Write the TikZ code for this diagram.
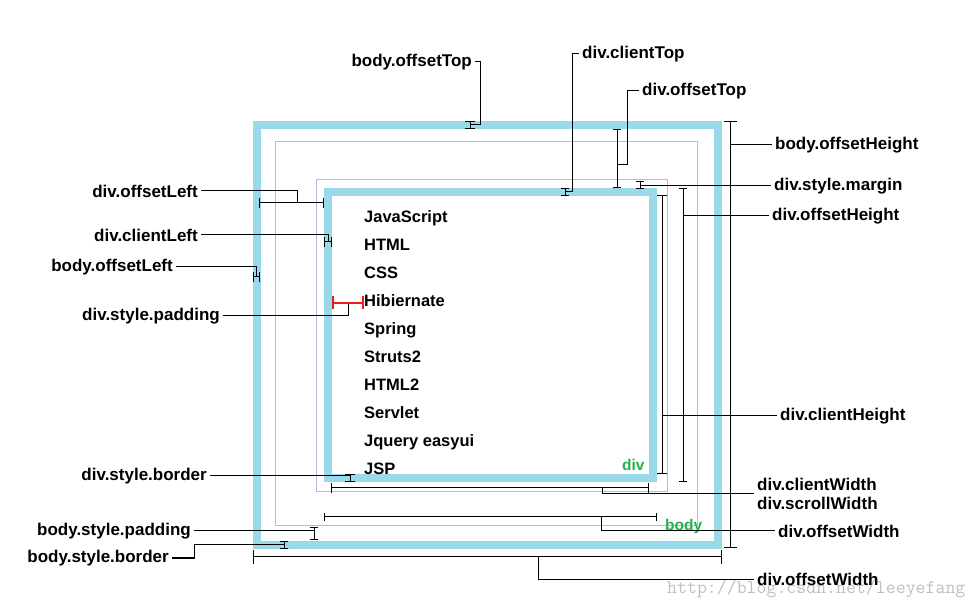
\documentclass[tikz,border=0pt]{standalone}
\usepackage{fontspec}
\setmainfont{Liberation Sans}
\usetikzlibrary{arrows.meta,calc}
\definecolor{SkyBlue}{HTML}{99D9EA}
\definecolor{Lavender}{HTML}{C0B4E4}
\definecolor{TagGreen}{HTML}{22B14C}
\definecolor{TagRed}{HTML}{ED1C24}
\tikzset{
  lbl/.style={font=\fontsize{17}{18.7}\selectfont\bfseries,inner xsep=3pt,inner ysep=0pt},
  listitem/.style={font=\fontsize{16.5}{19}\selectfont\bfseries,inner sep=0pt,anchor=base west},
  tag/.style={font=\fontsize{15.5}{18}\selectfont\bfseries,text=TagGreen,inner sep=0pt,anchor=base west},
  watermark/.style={font=\fontsize{19.3}{20}\selectfont\ttfamily,text=black!25,inner sep=0pt,anchor=base west},
  blueborder/.style={draw=SkyBlue,line width=8pt},
  boxline/.style={draw=Lavender,line width=1pt},
  leader/.style={draw=black,line width=1pt},
  dimline/.style={{Bar[width=10pt]}-{Bar[width=10pt]},draw=black,line width=1pt},
  dimsmall/.style={{Bar[width=8pt]}-{Bar[width=8pt]},draw=black,line width=1pt},
  dimwide/.style={{Bar[width=13pt]}-{Bar[width=13pt]},draw=black,line width=1pt},
  reddim/.style={{Bar[width=13pt]}-{Bar[width=13pt]},draw=TagRed,line width=2pt},
}
\begin{document}
\begin{tikzpicture}[x=1pt,y=-1pt]
\useasboundingbox (0,0) rectangle (978,609);
% body and div boxes
\draw[blueborder] (257,125) rectangle (717.5,545);
\draw[boxline] (275,142) rectangle (697,526);
\draw[boxline] (316,180) rectangle (667,492);
\draw[blueborder] (328,192) rectangle (653,478);
\foreach \t [count=\i from 0] in {JavaScript,HTML,CSS,Hibiernate,Spring,Struts2,HTML2,Servlet,Jquery easyui,JSP}
  \node[listitem] (item\i) at (364,223+28*\i) {\t};
\node[tag] (divtag) at (622,471) {div};
\node[tag] (bodytag) at (665,531) {body};

\node[watermark] (wm) at (667,594) {http://blog.csdn.net/leeyefang};

% top labels
\node[lbl,anchor=east] (offTopB) at (475,62) {body.offsetTop};
\coordinate (offTopB1) at (470,121); \coordinate (offTopB2) at (470,129);
\draw[dimline] (offTopB1) -- (offTopB2);
\draw[leader] (offTopB.east) -- ++(5,0) |- ($(offTopB1)!.5!(offTopB2)$);

\node[lbl,anchor=west] (cliTopD) at (579,54) {div.clientTop};
\coordinate (cliTopD1) at (565,188); \coordinate (cliTopD2) at (565,196);
\draw[dimsmall] (cliTopD1) -- (cliTopD2);
\draw[leader] (cliTopD.west) -- ++(-7,0) |- ($(cliTopD1)!.5!(cliTopD2)$);

\node[lbl,anchor=west] (offTopD) at (639,91) {div.offsetTop};
\coordinate (offTopD1) at (617,129); \coordinate (offTopD2) at (617,188);
\draw[dimsmall] (offTopD1) -- (offTopD2);
\draw[leader] (offTopD.west) -- ++(-12,0) |- ($(offTopD1)!.6!(offTopD2)$);

% right labels
\node[lbl,anchor=west] (offHB) at (772,145) {body.offsetHeight};
\coordinate (offHB1) at (730,121); \coordinate (offHB2) at (730,548);
\draw[dimwide] (offHB1) -- (offHB2);
\draw[leader] (offHB.west) -- (offHB.west -| offHB1);

\node[lbl,anchor=west] (marginD) at (771,186) {div.style.margin};
\coordinate (marginD1) at (640,181); \coordinate (marginD2) at (640,189);
\draw[dimsmall] (marginD1) -- (marginD2);
\draw[leader] (marginD.west) -- (marginD.west -| marginD1);

\node[lbl,anchor=west] (offHD) at (769,216) {div.offsetHeight};
\coordinate (offHD1) at (683,188); \coordinate (offHD2) at (683,482);
\draw[dimsmall] (offHD1) -- (offHD2);
\draw[leader] (offHD.west) -- (offHD.west -| offHD1);

\node[lbl,anchor=west] (cliHD) at (777,416) {div.clientHeight};
\coordinate (cliHD1) at (662,195); \coordinate (cliHD2) at (662,474);
\draw[dimline] (cliHD1) -- (cliHD2);
\draw[leader] (cliHD.west) -- (cliHD.west -| cliHD1);

% bottom labels
\node[lbl,anchor=west,align=left] (cliWD) at (754,494) {div.clientWidth\\div.scrollWidth};
\coordinate (cliWD1) at (331,488); \coordinate (cliWD2) at (649,488);
\draw[dimline] (cliWD1) -- (cliWD2);
\draw[leader] ($(cliWD1)!.855!(cliWD2)$) |- (cliWD.west);

\node[lbl,anchor=west] (offWD) at (775,531) {div.offsetWidth};
\coordinate (offWD1) at (324,517); \coordinate (offWD2) at (657,517);
\draw[dimsmall] (offWD1) -- (offWD2);
\draw[leader] ($(offWD1)!.834!(offWD2)$) |- (offWD.west);

\node[lbl,anchor=west] (offWB) at (754,579) {div.offsetWidth};
\coordinate (offWB1) at (253,557); \coordinate (offWB2) at (722,557);
\draw[dimwide] (offWB1) -- (offWB2);
\draw[leader] ($(offWB1)!.608!(offWB2)$) |- (offWB.west);

% left labels
\node[lbl,anchor=east] (offLD) at (201,191) {div.offsetLeft};
\coordinate (offLD1) at (259,203); \coordinate (offLD2) at (324,203);
\draw[dimline] (offLD1) -- (offLD2);
\draw[leader] (offLD.east) -| ($(offLD1)!.585!(offLD2)$);

\node[lbl,anchor=east] (cliLD) at (201,235) {div.clientLeft};
\coordinate (cliLD1) at (324,242); \coordinate (cliLD2) at (332,242);
\draw[dimline] (cliLD1) -- (cliLD2);
\draw[leader] (cliLD.east) -| ($(cliLD1)!.5!(cliLD2)$);

\node[lbl,anchor=east] (offLB) at (176,267) {body.offsetLeft};
\coordinate (offLB1) at (253,277); \coordinate (offLB2) at (260,277);
\draw[dimline] (offLB1) -- (offLB2);
\draw[leader] (offLB.east) -| ($(offLB1)!.5!(offLB2)$);

\node[lbl,anchor=east] (padD) at (223,316) {div.style.padding};
\coordinate (padD1) at (332,303); \coordinate (padD2) at (364,303);
\draw[leader] (padD.east) -| ($(padD1)!.5!(padD2)$);
\draw[reddim] (padD1) -- (padD2);

\node[lbl,anchor=east] (borderD) at (210,476) {div.style.border};
\coordinate (borderD1) at (350,474); \coordinate (borderD2) at (350,482);
\draw[dimline] (borderD1) -- (borderD2);
\draw[leader] (borderD.east) -| ($(borderD1)!.5!(borderD2)$);

\node[lbl,anchor=east] (padB) at (194,531) {body.style.padding};
\coordinate (padB1) at (314,527); \coordinate (padB2) at (314,540);
\draw[dimsmall] (padB1) -- (padB2);
\draw[leader] (padB.east) -| ($(padB1)!.5!(padB2)$);

\node[lbl,anchor=east] (borderB) at (172,558) {body.style.border};
\coordinate (borderB1) at (284,541); \coordinate (borderB2) at (284,549);
\draw[dimsmall] (borderB1) -- (borderB2);
\draw[leader] (borderB.east) -- ++(22,0) |- ($(borderB1)!.5!(borderB2)$);
\end{tikzpicture}
\end{document}
